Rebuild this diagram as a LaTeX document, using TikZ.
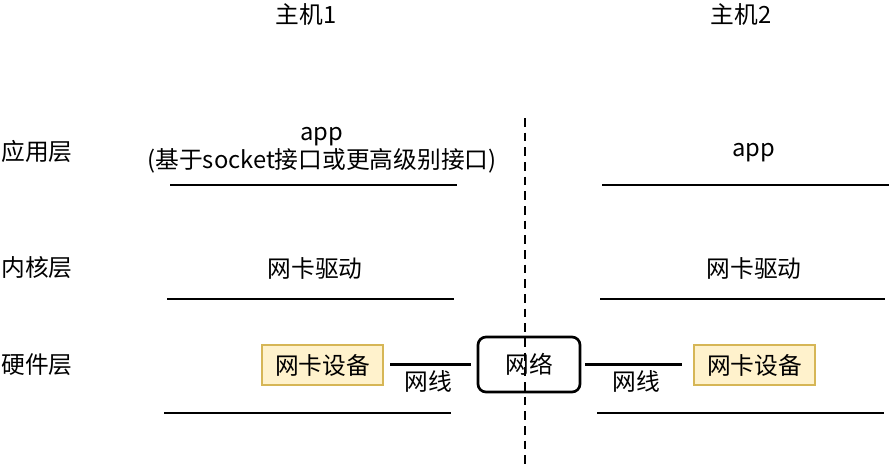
\documentclass[tikz,border=0pt]{standalone}
\usepackage{fontspec}
\setmainfont{Noto Sans CJK SC}
\usetikzlibrary{positioning}
\tikzstyle{every node}=[font=\fontsize{17.8}{21}\selectfont, inner sep=0pt]
\tikzstyle{layer}=[line width=2pt]
\tikzstyle{devbox}=[draw=devborder, fill=devfill, line width=2pt, minimum width=121*0.75pt, minimum height=40*0.75pt]
\tikzstyle{netbox}=[draw, rounded corners=6pt, line width=2pt, minimum width=102*0.75pt, minimum height=55*0.75pt]
\tikzstyle{wire}=[line width=2pt]
\definecolor{devfill}{HTML}{FFF2CC}
\definecolor{devborder}{HTML}{D6B656}

\begin{document}
\begin{tikzpicture}[x=0.75pt, y=-0.75pt]
  \useasboundingbox (0,0) rectangle (890,465);
  % hosts
  \node (host1) at (306,14) {主机1};
  \node (host2) at (741,14) {主机2};
  % layer names
  \node (appl) at (37,151) {应用层};
  \node (kern) at (37,268) {内核层};
  \node (hard) at (37,365) {硬件层};
  % application layer
  \node[align=center] (app1) at (322,150) {app\\(基于socket接口或更高级别接口)};
  \node (app2) at (754,153) {app};
  \draw[layer] (170,185) -- (457,185);
  \draw[layer] (602,185) -- (889,185);
  % kernel layer
  \node (drv1) at (315,268) {网卡驱动};
  \node (drv2) at (754,268) {网卡驱动};
  \draw[layer] (167,299) -- (454,299);
  \draw[layer] (600,299) -- (885,299);
  % hardware layer
  \node[devbox] (nic1) at (322.5,365) {网卡设备};
  \node[devbox] (nic2) at (754.5,365) {网卡设备};
  \node[netbox] (net) at (529,364.5) {网络};
  \draw[wire, shorten <=4.5pt, shorten >=4pt] (nic1.east |- net) -- (net.west);
  \draw[wire, shorten <=3pt, shorten >=8pt] (net.east) -- (nic2.west |- net);
  \node (cable1) at (428,381) {网线};
  \node (cable2) at (636,381) {网线};
  \draw[layer] (164,413) -- (451,413);
  \draw[layer] (597,413) -- (884,413);
  % separator
  \draw[line width=2pt, dash pattern=on 6.5pt off 4.5pt] (525,118) -- (525,465);
\end{tikzpicture}
\end{document}
